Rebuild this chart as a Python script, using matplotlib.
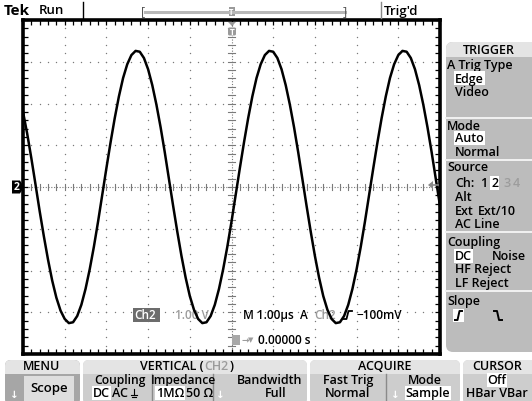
"""Tek scope screen grab: CH2 sine wave, 1.00 V/div, 1.00 us/div, with side and bottom menus."""
import matplotlib

matplotlib.use("Agg")
import matplotlib.pyplot as plt
from matplotlib.patches import FancyBboxPatch, Rectangle, Polygon
from matplotlib.ticker import MultipleLocator

plt.rcParams['font.family'] = ['Open Sans', 'DejaVu Sans']

# trace samples: time in us (1 div = 1.00 us), CH2 in V (1 div = 1.00 V)
time_us = [
    0.0, 0.1, 0.2, 0.3, 0.4, 0.5, 0.6, 0.7, 0.8, 0.9, 1.0, 1.1, 1.2, 1.3, 1.4, 1.5, 1.6, 1.7, 1.8, 1.9,
    2.0, 2.1, 2.2, 2.3, 2.4, 2.5, 2.6, 2.7, 2.8, 2.9, 3.0, 3.1, 3.2, 3.3, 3.4, 3.5, 3.6, 3.7, 3.8, 3.9,
    4.0, 4.1, 4.2, 4.3, 4.4, 4.5, 4.6, 4.7, 4.8, 4.9, 5.0, 5.1, 5.2, 5.3, 5.4, 5.5, 5.6, 5.7, 5.8, 5.9,
    6.0, 6.1, 6.2, 6.3, 6.4, 6.5, 6.6, 6.7, 6.8, 6.9, 7.0, 7.1, 7.2, 7.3, 7.4, 7.5, 7.6, 7.7, 7.8, 7.9,
    8.0, 8.1, 8.2, 8.3, 8.4, 8.5, 8.6, 8.7, 8.8, 8.9, 9.0, 9.1, 9.2, 9.3, 9.4, 9.5, 9.6, 9.7, 9.8, 9.9,
    10.0,
]
ch2_volts = [
    1.80, 1.28, 0.69, 0.06, -0.58, -1.18, -1.74, -2.24, -2.65, -2.96, -3.16, -3.26, -3.24, -3.09, -2.82, -2.44,
    -1.97, -1.43, -0.83, -0.19, 0.45, 1.07, 1.65, 2.17, 2.61, 2.94, 3.16, 3.26, 3.24, 3.09, 2.82, 2.44,
    1.97, 1.43, 0.83, 0.19, -0.45, -1.07, -1.65, -2.17, -2.61, -2.94, -3.16, -3.26, -3.24, -3.09, -2.82, -2.44,
    -1.97, -1.43, -0.83, -0.19, 0.45, 1.07, 1.65, 2.17, 2.61, 2.94, 3.16, 3.26, 3.24, 3.09, 2.82, 2.44,
    1.97, 1.43, 0.83, 0.19, -0.45, -1.07, -1.65, -2.17, -2.61, -2.94, -3.16, -3.26, -3.24, -3.09, -2.82, -2.44,
    -1.97, -1.43, -0.83, -0.19, 0.45, 1.07, 1.65, 2.17, 2.61, 2.94, 3.16, 3.26, 3.24, 3.09, 2.82, 2.44,
    1.97, 1.43, 0.83, 0.19, -0.45,
]

GRID = "#7a7a7a"
DIM = "#9c9c9c"
PANEL = "#bcbcbc"
HEAD = "#e4e4e4"
FS = 9          # menu text size
W = "semibold"  # menu text weight

fig = plt.figure(figsize=(5.32, 4.02), dpi=100)
fig.patch.set_facecolor("white")

# screen area in pixels: x 23..440, y 21..355 (10 x 8 divisions)
ax = fig.add_axes([23 / 532, 47 / 402, 417 / 532, 334 / 402])
ax.set_xlim(0, 10)
ax.set_ylim(-4, 4)
for sp in ax.spines.values():
    sp.set_linewidth(2.6)
ax.xaxis.set_major_locator(MultipleLocator(1))
ax.yaxis.set_major_locator(MultipleLocator(1))
ax.xaxis.set_minor_locator(MultipleLocator(0.2))
ax.yaxis.set_minor_locator(MultipleLocator(0.2))
ax.tick_params(which="both", direction="in", length=3.5, width=0.9,
               top=True, right=True, labelbottom=False, labelleft=False)

# graticule: dots every 0.2 div on each division line
dots_x, dots_y = [], []
for i in range(1, 10):
    if i == 5:
        continue
    for j in range(41):
        dots_x.append(i)
        dots_y.append(-4 + 0.2 * j)
for i in range(-3, 4):
    if i == 0:
        continue
    for j in range(51):
        dots_x.append(0.2 * j)
        dots_y.append(i)
ax.scatter(dots_x, dots_y, s=1.0, color=GRID, linewidths=0, zorder=1)

# centre lines with small ticks
ax.axhline(0, color=GRID, lw=0.8, linestyle=(0, (1, 1.5)), zorder=1)
ax.axvline(5, color=GRID, lw=0.8, linestyle=(0, (1, 1.5)), zorder=1)
for j in range(51):
    ax.plot([0.2 * j, 0.2 * j], [-0.06, 0.06], color=GRID, lw=0.8, zorder=1)
for j in range(41):
    ax.plot([4.92, 5.08], [-4 + 0.2 * j, -4 + 0.2 * j], color=GRID, lw=0.8, zorder=1)

ax.plot(time_us, ch2_volts, color="black", lw=1.8, zorder=4, solid_joinstyle="round")

# overlay in pixel coordinates for all screen furniture
ov = fig.add_axes([0, 0, 1, 1], zorder=5)
ov.set_xlim(0, 532)
ov.set_ylim(402, 0)
ov.axis("off")


def txt(x, y, s, size=FS, color="black", ha="left", hl=None, target=None, weight=W, **kw):
    box = None
    if hl:
        box = dict(boxstyle="square,pad=0.06", fc=hl, ec="none")
    tgt = target if target is not None else ov
    tgt.text(x, y, s, fontsize=size, color=color, ha=ha, va="center", bbox=box,
             fontweight=weight, transform=ov.transData, **kw)


# ---- top status bar
txt(4, 11, "Tek", size=11, weight="bold")
txt(39, 11, "Run", size=9.5)
ov.plot([83, 83], [3, 19], color="black", lw=1)
ov.plot([145, 345], [13, 13], color="#b8b8b8", lw=2.2)
txt(141, 12, "[", size=9, color="#555555", weight="normal")
txt(343, 12, "]", size=9, color="#555555", weight="normal")
ov.add_patch(Rectangle((228.5, 8), 6, 9, fc="#9a9a9a", ec="none"))
txt(231.5, 12.5, "T", size=5.5, color="white", ha="center", weight="bold")
ov.plot([381, 381], [3, 19], color="#888888", lw=1)
txt(384, 11, "Trig'd", size=9.5)

# trigger position marker below the top edge
ov.add_patch(Polygon([(228, 23), (236, 23), (232, 27)], fc="#9a9a9a", ec="none"))
ov.add_patch(FancyBboxPatch((228, 28.5), 8, 8, boxstyle="round,pad=0,rounding_size=1.5",
                            fc="#9a9a9a", ec="none"))
txt(232, 32.5, "T", size=6, color="white", ha="center", weight="bold")

# channel 2 ground marker
ov.add_patch(Polygon([(12, 181.5), (20, 181.5), (24, 188), (20, 194.5), (12, 194.5)],
                     fc="black", ec="none"))
txt(17, 188, "2", size=7.5, color="white", ha="center", weight="bold")

# trigger level arrow on the right edge
ov.add_patch(Polygon([(428, 186), (433, 182), (433, 190)], fc="#8a8a8a", ec="none"))
ov.plot([432, 438], [186, 186], color="#8a8a8a", lw=1.2)

# ---- readouts inside the screen (drawn beneath the trace)
RS = 8.5
ax.add_patch(Rectangle((133, 309), 27, 14, transform=ov.transData, fc="#6c6c6c", ec="none", zorder=2))
txt(134.5, 316, "Ch2", size=RS, color="white", target=ax, zorder=2)
txt(175, 316, "1.00 V", size=RS, color=DIM, target=ax, zorder=2)
txt(243, 316, "M 1.00µs", size=RS, target=ax, zorder=2)
txt(300, 316, "A", size=RS, target=ax, zorder=2)
txt(314, 316, "Ch2", size=RS, color=DIM, target=ax, zorder=2)
ax.plot([343, 346.5, 348.5, 352], [320, 320, 312, 312], color="black", lw=1.3,
        transform=ov.transData, zorder=2)
txt(356, 316, "−100mV", size=RS, target=ax, zorder=2)
ax.add_patch(Rectangle((232, 336), 8, 10, transform=ov.transData, fc="#a8a8a8", ec="none", zorder=2))
txt(241, 341, "→", size=6.5, color=DIM, target=ax, zorder=2)
txt(248, 341, "▼", size=5, color=DIM, target=ax, zorder=2)
txt(258, 341, "0.00000 s", size=RS, target=ax, zorder=2)

# ---- right side menu: TRIGGER
ov.add_patch(FancyBboxPatch((446, 43), 100, 310, boxstyle="round,pad=0,rounding_size=7",
                            fc=PANEL, ec="none"))
ov.add_patch(FancyBboxPatch((446, 43), 100, 14, boxstyle="round,pad=0,rounding_size=7",
                            fc=HEAD, ec="none"))
ov.add_patch(Rectangle((446, 50), 100, 8, fc=HEAD, ec="none"))
for ysep in (119, 161, 233, 292):
    ov.plot([446, 532], [ysep, ysep], color="#f2f2f2", lw=1.4)

txt(489, 50, "TRIGGER", ha="center")
txt(447, 65, "A Trig Type")
txt(455, 79, "Edge", hl="white")
txt(455, 93, "Video")
txt(447, 126, "Mode")
txt(455, 139, "Auto", hl="white")
txt(455, 153, "Normal")
txt(447, 168, "Source")
txt(455, 184, "Ch:")
txt(480, 184, "1")
txt(491, 184, "2", hl="white")
txt(503, 184, "3", color=DIM)
txt(513, 184, "4", color=DIM)
txt(455, 198, "Alt")
txt(455, 212, "Ext")
txt(478, 212, "Ext/10")
txt(455, 225, "AC Line")
txt(447, 243, "Coupling")
txt(455, 257, "DC", hl="white")
txt(492, 257, "Noise")
txt(455, 270, "HF Reject")
txt(455, 284, "LF Reject")
txt(447, 302, "Slope")
ov.add_patch(Rectangle((453, 310), 11, 13, fc="white", ec="none"))
ov.plot([455, 457.5, 459.5, 462], [321, 321, 312, 312], color="black", lw=1.4)
ov.plot([494, 497, 499, 502], [312, 312, 321, 321], color="black", lw=1.4)


# ---- bottom menu boxes
def menu_box(x0, x1, body):
    ov.add_patch(FancyBboxPatch((x0, 361), x1 - x0, 45, boxstyle="round,pad=0,rounding_size=6",
                                fc=body, ec="none"))
    ov.add_patch(FancyBboxPatch((x0, 361), x1 - x0, 14, boxstyle="round,pad=0,rounding_size=6",
                                fc=HEAD, ec="none"))
    ov.add_patch(Rectangle((x0, 368), x1 - x0, 7, fc=HEAD, ec="none"))


menu_box(5, 80, "#a6a6a6")
txt(42, 367, "MENU", ha="center")
ov.add_patch(Rectangle((24, 377), 50, 25, fc="#dedede", ec="none"))
txt(49, 389, "Scope", size=9.5, ha="center")
txt(10, 395, "↓", color="white", size=7.5, weight="bold")

menu_box(83, 307, "#cdcdcd")
txt(204, 367, "VERTICAL (", ha="right")
txt(204, 367, "CH2", color=DIM)
txt(230, 367, ")")
txt(120, 381, "Coupling", size=8.7, ha="center")
txt(93, 394, "DC", hl="white")
txt(112, 394, "AC")
ov.plot([134, 134], [390, 396], color="black", lw=0.8)
ov.plot([131, 137], [396, 396], color="black", lw=0.8)
ov.plot([132, 136], [398, 398], color="black", lw=0.8)
ov.plot([152, 152], [375, 402], color="#8a8a8a", lw=1)
txt(184, 381, "Impedance", size=8.7, ha="center")
txt(156, 394, "1MΩ", hl="white")
txt(186, 394, "50 Ω")
ov.plot([213, 213], [375, 402], color="#8a8a8a", lw=1)
txt(270, 381, "Bandwidth", ha="center")
txt(216, 395, "↓", color="white", size=7.5, weight="bold")
txt(276, 394, "Full", ha="center")

menu_box(310, 460, "#cdcdcd")
txt(385, 367, "ACQUIRE", ha="center")
txt(348, 381, "Fast Trig", ha="center")
txt(348, 394, "Normal", ha="center")
ov.plot([386, 386], [375, 402], color="#8a8a8a", lw=1)
txt(425, 381, "Mode", ha="center")
txt(391, 395, "↓", color="white", size=7.5, weight="bold")
txt(428, 394, "Sample", ha="center", hl="white")

menu_box(463, 540, "#cdcdcd")
txt(497, 367, "CURSOR", ha="center")
txt(497, 381, "Off", ha="center", hl="white")
txt(497, 394, "HBar VBar", ha="center")

fig.savefig("out.png", dpi=100)
